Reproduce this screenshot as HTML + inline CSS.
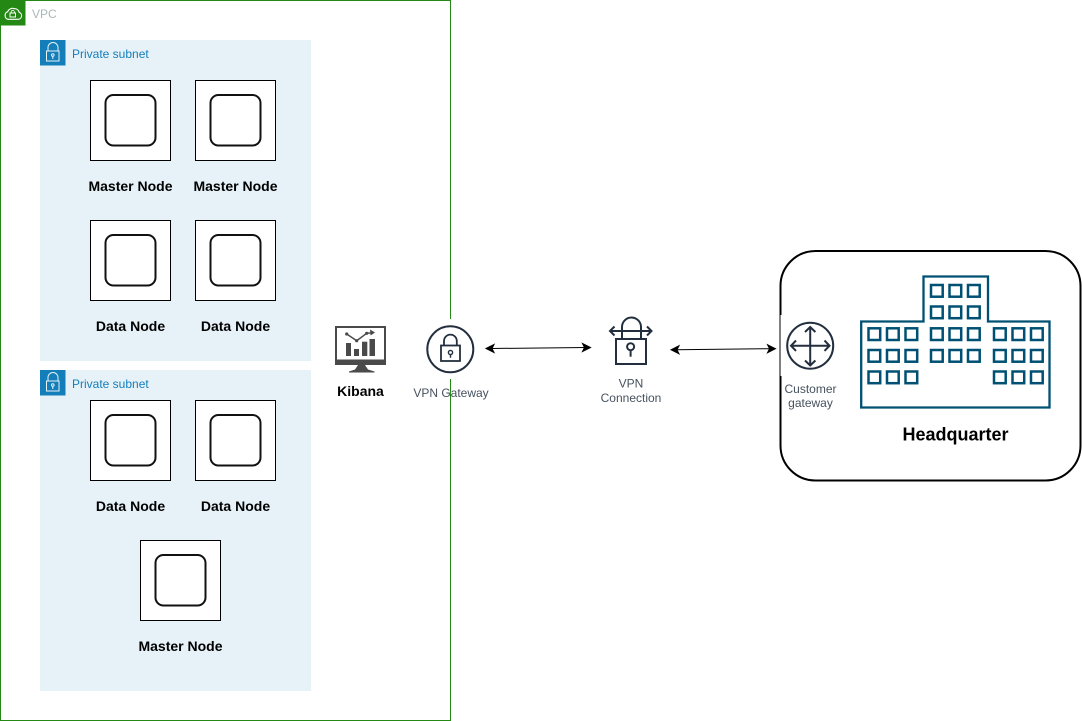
<!DOCTYPE html>
<html><head><meta charset="utf-8"><style>
html,body{margin:0;padding:0;background:#fff}
svg{display:block}
text{font-family:"Liberation Sans",Arial,sans-serif}
.b{font-weight:bold;font-size:14px;fill:#000;text-anchor:middle}
.s{font-size:12px;fill:#47525e;text-anchor:middle}
.p{font-size:12px;fill:#147EBA}
</style></head><body>
<svg width="1082" height="721" viewBox="0 0 1082 721" xmlns="http://www.w3.org/2000/svg">
<defs>
<g id="n"><rect x="0.5" y="0.5" width="80" height="80" fill="#fff" stroke="#000"/><rect x="15.5" y="15" width="50" height="50.5" rx="8" fill="#fff" stroke="#111" stroke-width="2"/></g>
<g id="sub"><rect width="25.500" height="25.500" fill="#147EBA"/><g fill="none" stroke="#e6f2f8" stroke-width="1"><rect x="6.500" y="11" width="12.500" height="10"/><path d="M8 11V7.500a5 5 0 0 1 10 0V11"/><circle cx="12.800" cy="15" r="1.300"/><path d="M12.800 16.300V19"/></g></g>
<rect id="w" width="11.700" height="11.700" fill="none" stroke="#005073" stroke-width="2.500"/>
</defs>
<rect x="0.5" y="0.5" width="450" height="720" fill="#fff" stroke="#248814"/>
<rect x="0" y="0" width="25.500" height="25.500" fill="#248814"/>
<path d="M8 19.300H18a3.600 3.600 0 0 0 1.200-7a4.500 4.500 0 0 0-5-3.600a5 5 0 0 0-6.500 3a4 4 0 0 0 .3 7.600z" fill="none" stroke="#fff" stroke-width="1.100"/>
<rect x="10" y="13" width="5.500" height="4" fill="none" stroke="#fff"/><path d="M11.200 13v-1a1.600 1.600 0 0 1 3.200 0v1" fill="none" stroke="#fff" stroke-width=".8"/>
<text x="32" y="18" font-size="12" fill="#AAB7B8">VPC</text>

<rect x="40" y="40" width="271" height="321" fill="#E6F2F8"/>
<rect x="40" y="370" width="271" height="321" fill="#E6F2F8"/>
<use href="#sub" x="40" y="40"/><use href="#sub" x="40" y="370"/>
<text class="p" x="72" y="58">Private subnet</text>
<text class="p" x="72" y="388">Private subnet</text>

<use href="#n" x="90" y="80"/><use href="#n" x="195" y="80"/>
<use href="#n" x="90" y="220"/><use href="#n" x="195" y="220"/>
<use href="#n" x="90" y="400"/><use href="#n" x="195" y="400"/>
<use href="#n" x="140" y="540"/>
<text class="b" x="130.500" y="191">Master Node</text>
<text class="b" x="235.500" y="191">Master Node</text>
<text class="b" x="130.500" y="331">Data Node</text>
<text class="b" x="235.500" y="331">Data Node</text>
<text class="b" x="130.500" y="511">Data Node</text>
<text class="b" x="235.500" y="511">Data Node</text>
<text class="b" x="180.500" y="651">Master Node</text>

<!-- Kibana -->
<rect x="336" y="327" width="49" height="34" fill="#fff" stroke="#4a4a4a" stroke-width="2"/>
<rect x="335" y="359.500" width="51" height="5.500" fill="#4a4a4a"/>
<path d="M358 365h7l3 4.500 6.500 2v1H349v-1l6-2z" fill="#4a4a4a"/>
<path d="M346.700 334l10 6.700 10-7.400 6-.6" fill="none" stroke="#4a4a4a" stroke-width="1.500"/>
<path d="M375 332.500l-5-3 .6 6z" fill="#4a4a4a"/>
<circle cx="346.700" cy="334" r="1.600" fill="#4a4a4a"/><circle cx="356.700" cy="340.700" r="1.600" fill="#4a4a4a"/><circle cx="366.700" cy="333.300" r="1.600" fill="#4a4a4a"/>
<rect x="346" y="343" width="5" height="13" fill="#4a4a4a"/><rect x="354" y="349" width="5" height="7" fill="#4a4a4a"/><rect x="362" y="341.700" width="5.300" height="14.300" fill="#4a4a4a"/><rect x="369.500" y="339" width="5.500" height="17" fill="#4a4a4a"/>
<text class="b" x="360.500" y="396">Kibana</text>

<!-- VPN gateway -->
<rect x="420" y="319" width="60" height="60" fill="#fff"/>
<circle cx="450.300" cy="349.300" r="23" fill="#fff" stroke="#232F3E" stroke-width="2"/>
<rect x="441" y="345.500" width="19" height="15.500" fill="none" stroke="#232F3E" stroke-width="1.800"/>
<path d="M444 345.500v-4.500a6.400 6.400 0 0 1 12.800 0v4.500" fill="none" stroke="#232F3E" stroke-width="1.800"/>
<circle cx="450.500" cy="352.500" r="2.100" fill="none" stroke="#232F3E" stroke-width="1.400"/><path d="M450.500 354.500v3.300" stroke="#232F3E" stroke-width="1.400"/>
<text class="s" x="451" y="397">VPN Gateway</text>

<!-- arrows -->
<g stroke="#000" fill="#000" stroke-width="1">
<path d="M491 348.500L586 347.500" fill="none"/>
<path d="M486 348.500l8-4-2 4 2 4z"/><path d="M590.500 347.500l-8 4 2-4-2-4z"/>
<path d="M676 349.800L771 348.700" fill="none"/>
<path d="M671 349.800l8-4-2 4 2 4z"/><path d="M775.500 348.700l-8 4 2-4-2-4z"/>
</g>

<!-- VPN connection -->
<g fill="none" stroke="#232F3E" stroke-width="2">
<rect x="616" y="339" width="30" height="25"/>
<path d="M622 331v-4a9.500 9.500 0 0 1 19 0v4"/>
<path d="M622 331v8M641 331v8"/>
<path d="M610 331h41M614.500 326.500l-4.500 4.500 4.500 4.500M647 326.500l4.500 4.500-4.500 4.500"/>
<circle cx="630.600" cy="346.700" r="3.500"/><path d="M630.600 350v6.700"/>
</g>
<text class="s" x="631" y="387.500">VPN</text>
<text class="s" x="631" y="402">Connection</text>

<!-- Headquarter -->
<rect x="780.500" y="251" width="300" height="229.500" rx="35" fill="#fff" stroke="#000" stroke-width="2"/>
<rect x="780.500" y="315" width="60" height="61" fill="#fff"/>
<circle cx="810.200" cy="345.700" r="23" fill="#fff" stroke="#232F3E" stroke-width="2"/>
<g fill="none" stroke="#232F3E" stroke-width="2">
<path d="M810.200 327v38.500M791 345.700h38.500M805 332l5.200-5 5.200 5M805 360.500l5.200 5 5.200-5M796 340.500l-5 5.200 5 5.200M824.500 340.500l5 5.200-5 5.200"/>
</g>
<text class="s" x="810.500" y="393">Customer</text>
<text class="s" x="810.500" y="407">gateway</text>

<path d="M861.200 321.500H923.500V276.500H988V321.500H1049.500V407.500H861.200Z" fill="#fff" stroke="#005073" stroke-width="2.300"/>
<use href="#w" x="868.500" y="328.300"/><use href="#w" x="887" y="328.300"/><use href="#w" x="905.500" y="328.300"/>
<use href="#w" x="868.500" y="350"/><use href="#w" x="887" y="350"/><use href="#w" x="905.500" y="350"/>
<use href="#w" x="868.500" y="371.500"/><use href="#w" x="887" y="371.500"/><use href="#w" x="905.500" y="371.500"/>
<use href="#w" x="931" y="285"/><use href="#w" x="949.500" y="285"/><use href="#w" x="968" y="285"/>
<use href="#w" x="931" y="306.500"/><use href="#w" x="949.500" y="306.500"/><use href="#w" x="968" y="306.500"/>
<use href="#w" x="931" y="328.300"/><use href="#w" x="949.500" y="328.300"/><use href="#w" x="968" y="328.300"/>
<use href="#w" x="931" y="350"/><use href="#w" x="949.500" y="350"/><use href="#w" x="968" y="350"/>
<use href="#w" x="994" y="328.300"/><use href="#w" x="1012.500" y="328.300"/><use href="#w" x="1031" y="328.300"/>
<use href="#w" x="994" y="350"/><use href="#w" x="1012.500" y="350"/><use href="#w" x="1031" y="350"/>
<use href="#w" x="994" y="371.500"/><use href="#w" x="1012.500" y="371.500"/><use href="#w" x="1031" y="371.500"/>
<text x="955.500" y="440.500" font-size="18" font-weight="bold" text-anchor="middle" fill="#000">Headquarter</text>
</svg>
</body></html>
